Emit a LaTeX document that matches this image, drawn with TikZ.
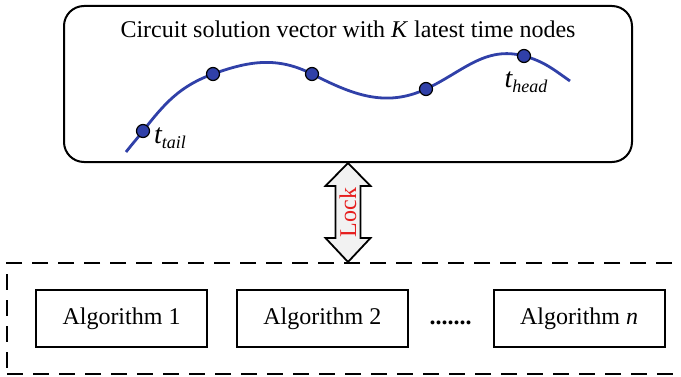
\documentclass[tikz,border=0pt]{standalone}
\usepackage{fontspec}
\setmainfont{Liberation Serif}
\usetikzlibrary{positioning,calc}
\definecolor{curveblue}{RGB}{48,64,168}
\definecolor{lockred}{RGB}{230,30,30}
\definecolor{lockgray}{RGB}{242,242,242}
\tikzstyle{timenode}=[circle,fill=curveblue,draw=black,line width=0.6pt,inner sep=0pt,minimum size=6.5pt]
\tikzstyle{solcurve}=[draw=curveblue,line width=1.4pt]
\tikzstyle{algbox}=[draw,line width=0.9pt,minimum width=85.5pt,minimum height=28.5pt,inner sep=0pt]
\tikzstyle{lockarrow}=[draw,line width=0.9pt,fill=lockgray,line join=miter]
\newcommand{\tsub}[1]{{\fontsize{14}{14}\selectfont\itshape t\raisebox{-0.4ex}{\fontsize{9}{9}\selectfont #1}}}

\begin{document}
\begin{tikzpicture}[x=0.5pt,y=0.5pt,font=\fontsize{12}{14}\selectfont]
  \useasboundingbox (0,0) rectangle (681,376);
  \clip (0,0) rectangle (681,376);

  \node (sol) at (348,292) [draw,line width=1pt,rounded corners=10pt,minimum width=284pt,minimum height=78pt] {};
  \node (title) at (348,338) [anchor=base] {Circuit solution vector with \textit{K} latest time nodes};

  \coordinate (c0) at (126,224);
  \coordinate (k1) at (143,245);
  \coordinate (k2) at (213,302);
  \coordinate (k3) at (312,302);
  \coordinate (k4) at (426,287);
  \coordinate (k5) at (524,320);
  \coordinate (c1) at (570,295);

  \draw [solcurve] (c0) to[out=52,in=232] (k1) to[out=52,in=200] (k2)
                   to[out=20,in=153] (k3) to[out=-27,in=205] (k4)
                   to[out=25,in=165] (k5) to[out=-15,in=145] (c1);
  \foreach \i in {1,...,5}
    \node (p\i) at (k\i) [timenode] {};

  \node (ttail) at (170,238) {\tsub{tail}};
  \node (thead) at (526,294) {\tsub{head}};

  \node (algs) at (353.5,57.5) [draw,dash pattern=on 8pt off 5pt,line width=1pt,minimum width=346.5pt,minimum height=55.5pt] {};
  \node (alg1) at (121.5,57.5) [algbox] {Algorithm 1};
  \node (alg2) [algbox,right=14pt of alg1] {Algorithm 2};
  \node (algn) [algbox,right=42pt of alg2] {Algorithm \textit{n}};
  \node (dots) [anchor=base] at ($(alg2.base east)!0.5!(algn.base west)$) {\textbf{.......}};

  % lock between the solution vector and the algorithms
  \draw [lockarrow] (sol.south) -- ++(-22.5,-23) -- ++(10,0)
        -- ($(sol.south |- algs.north)+(-12.5,24)$) -- ++(-10,0)
        -- (sol.south |- algs.north) -- ++(22.5,24) -- ++(-10,0)
        -- ($(sol.south)+(12.5,-23)$) -- ++(10,0) -- cycle;
  \node (lock) at ($(sol.south)!0.5!(sol.south |- algs.north)$) [rotate=90,text=lockred] {Lock};
\end{tikzpicture}
\end{document}
